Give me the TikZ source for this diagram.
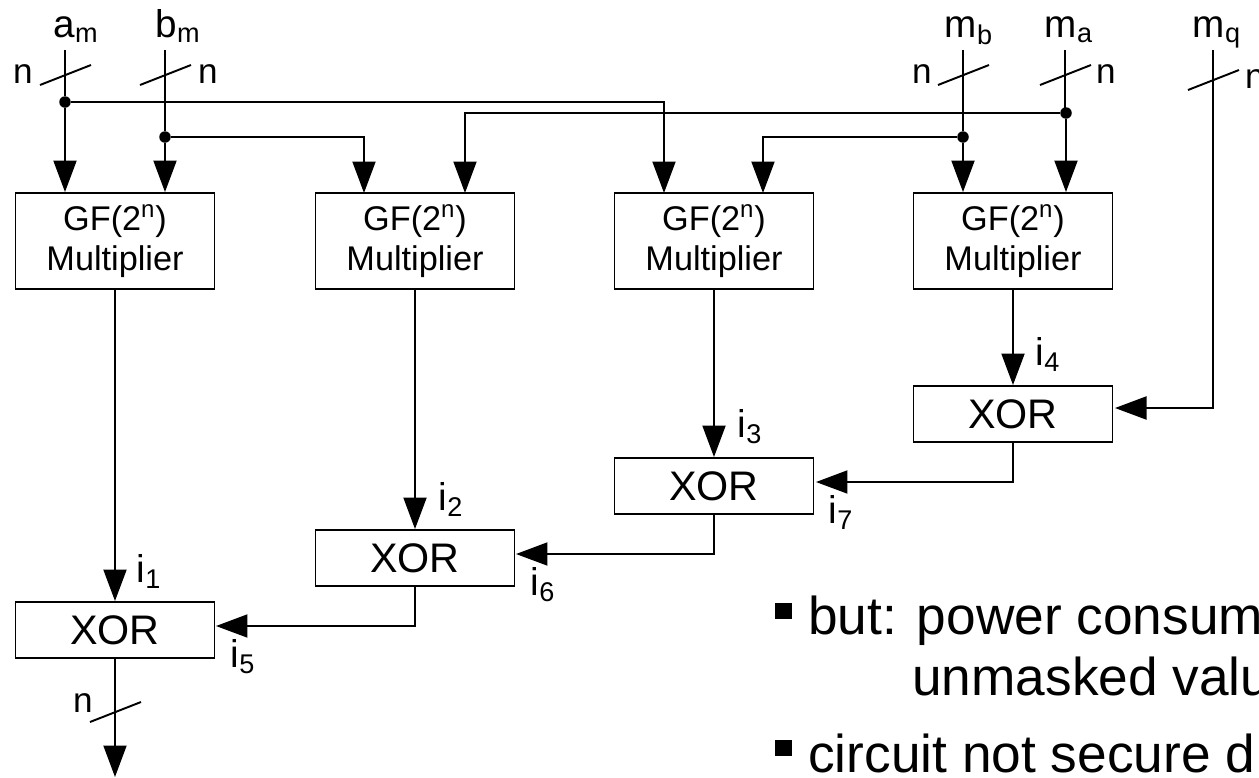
\documentclass[tikz,border=0pt]{standalone}
\usepackage{fontspec}
\setmainfont{Liberation Sans}
\usetikzlibrary{arrows.meta,calc}

\begin{document}
\begin{tikzpicture}[
    x=0.02cm, y=-0.02cm,
    multiplier/.style={rectangle, draw=black, line width=1.1pt, minimum width=3.98cm, minimum height=1.92cm, inner sep=0pt, align=center, font=\fontsize{19.5}{22.7}\selectfont, execute at begin node={\rule{0pt}{22pt}}},
    xorbox/.style={rectangle, draw=black, line width=1.1pt, minimum width=3.98cm, minimum height=1.12cm, inner sep=0pt, font=\fontsize{23.5}{26}\selectfont},
    arrow/.style={-{Triangle[length=0.63cm,width=0.46cm]}, line width=1.1pt},
    wire/.style={line width=1.1pt},
    joint/.style={circle, fill=black, inner sep=0pt, minimum size=0.23cm},
    signal/.style={anchor=base, inner sep=0pt, font=\fontsize{22}{24}\selectfont},
    buswidth/.style={anchor=base, inner sep=0pt, font=\fontsize{20}{22}\selectfont},
    bullet/.style={rectangle, fill=black, inner sep=0pt, minimum size=0.33cm},
    slide/.style={anchor=base west, inner sep=0pt, font=\fontsize{30.3}{34}\selectfont}
]
\useasboundingbox (0,0) rectangle (1259,778);

% Multipliers
\node[multiplier] (mulA) at (115,241) {GF(2\textsuperscript{n})\\Multiplier};
\node[multiplier] (mulB) at (415,241) {GF(2\textsuperscript{n})\\Multiplier};
\node[multiplier] (mulC) at (714,241) {GF(2\textsuperscript{n})\\Multiplier};
\node[multiplier] (mulD) at (1013,241) {GF(2\textsuperscript{n})\\Multiplier};

% XOR gates
\node[xorbox] (xorD) at (1013,414) {XOR};
\node[xorbox] (xorC) at (714,486) {XOR};
\node[xorbox] (xorB) at (415,558) {XOR};
\node[xorbox] (xorA) at (115,630) {XOR};

% Inputs
\node[signal] (am) at (76,37) {a\textsubscript{m}};
\node[signal] (bm) at (178,37) {b\textsubscript{m}};
\node[signal] (mb) at (969,37) {m\textsubscript{b}};
\node[signal] (ma) at (1069,37) {m\textsubscript{a}};
\node[signal] (mq) at (1217,37) {m\textsubscript{q}};
\coordinate (inam) at (65,50);
\coordinate (inbm) at (165,50);
\coordinate (inmb) at (963,50);
\coordinate (inma) at (1065,50);
\coordinate (inmq) at (1213,50);

% Branch points
\node[joint] (ja) at (65,102) {};
\node[joint] (jb) at (165,137) {};
\node[joint] (jmb) at (963,137) {};
\node[joint] (jma) at (1066,113) {};

% Bus widths
\node[buswidth] (na) at (23,83) {n};
\node[buswidth] (nb) at (208,83) {n};
\node[buswidth] (nmb) at (922,83) {n};
\node[buswidth] (nma) at (1106,83) {n};
\node[buswidth] (nmq) at (1255,88) {n};
\node[buswidth] (nout) at (83,712) {n};
\foreach \x/\y in {65/75, 165/75, 963/75, 1065/75, 1213/80, 115/712}
    \draw[wire] (\x-25,\y+10) -- (\x+26,\y-10);

% Intermediate values
\node[signal] (iA) at (149,582) {i\textsubscript{1}};
\node[signal] (iB) at (451,510) {i\textsubscript{2}};
\node[signal] (iC) at (750,437) {i\textsubscript{3}};
\node[signal] (iD) at (1048,365) {i\textsubscript{4}};
\node[signal] (iE) at (243,667) {i\textsubscript{5}};
\node[signal] (iF) at (543,595) {i\textsubscript{6}};
\node[signal] (iG) at (841,523) {i\textsubscript{7}};

% Connections
\draw[wire] (inam) -- (ja);
\draw[arrow] (ja) -- (ja |- mulA.north);
\draw[wire] (inbm) -- (jb);
\draw[arrow] (jb) -- (jb |- mulA.north);
\draw[wire] (inmb) -- (jmb);
\draw[arrow] (jmb) -- (jmb |- mulD.north);
\draw[wire] (inma) -- (inma |- jma);
\draw[arrow] (jma) -- (jma |- mulD.north);
\draw[arrow] (ja) -| (664,193);
\draw[arrow] (jb) -| (364,193);
\draw[arrow] (jma) -| (465,193);
\draw[arrow] (jmb) -| (763,193);

\draw[arrow] (mulA) -- (xorA);
\draw[arrow] (mulB) -- (xorB);
\draw[arrow] (mulC) -- (xorC);
\draw[arrow] (mulD) -- (xorD);

\coordinate (sideD) at (1115,408);
\coordinate (sideC) at (816,482);
\coordinate (sideB) at (516,554);
\coordinate (sideA) at (216,626);
\draw[arrow] (inmq) |- (sideD);
\draw[arrow] (xorD) |- (sideC);
\draw[arrow] (xorC) |- (sideB);
\draw[arrow] (xorB) |- (sideA);

\coordinate (result) at (115,777);
\draw[arrow] (xorA) -- (result);

% Slide text
\node[bullet] (bulA) at (783.5,611) {};
\node[bullet] (bulB) at (783.5,748) {};
\node[slide] (butline) at (808,634) {but: power consum};
\node[slide] (unmasked) at (912,695) {unmasked valu};
\node[slide] (circuit) at (808,772) {circuit not secure d};

\end{tikzpicture}
\end{document}
